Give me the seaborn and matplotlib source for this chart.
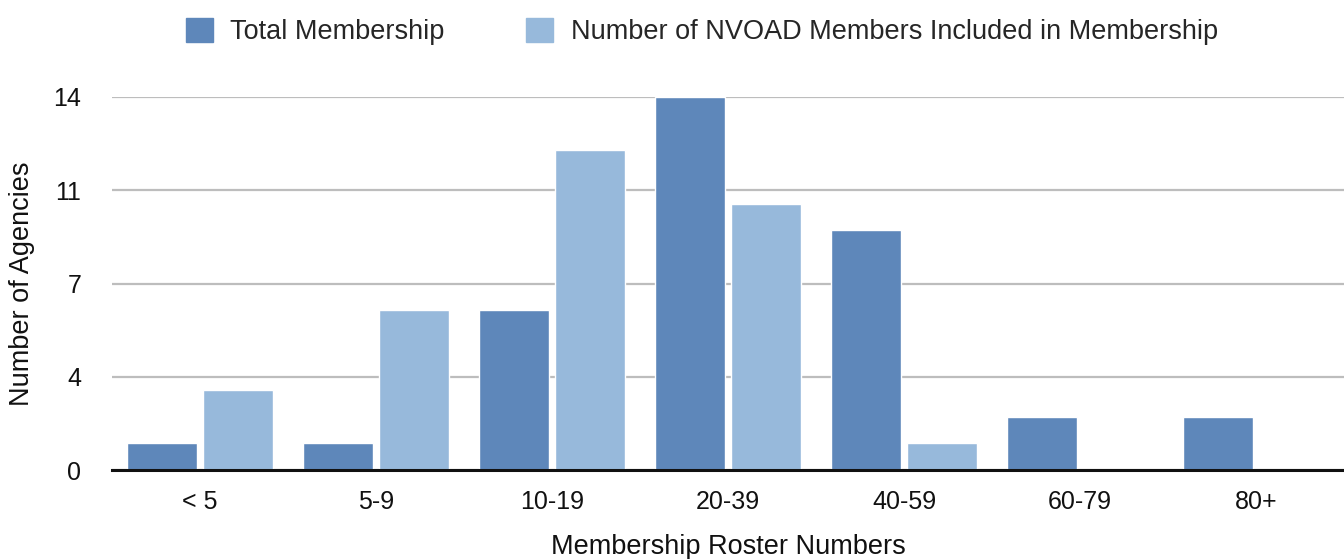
"""
plot.py

Grouped bar chart: membership roster sizes of agencies.
"""

import matplotlib
matplotlib.use("Agg")
import matplotlib.pyplot as plt
import pandas as pd
import seaborn as sns

# data
categories = ["< 5", "5-9", "10-19", "20-39", "40-59", "60-79", "80+"]
total_membership = [1, 1, 6, 14, 9, 2, 2]
nvoad_members = [3, 6, 12, 10, 1, 0, 0]
series_names = ["Total Membership", "Number of NVOAD Members Included in Membership"]
y_ticks = [0, 3.5, 7, 10.5, 14]
y_tick_labels = ["0", "4", "7", "11", "14"]

colors = ["#5E87BA", "#97B9DB"]

df = pd.DataFrame({
    "category": categories * 2,
    "value": total_membership + nvoad_members,
    "series": [series_names[0]] * len(categories) + [series_names[1]] * len(categories),
})

sns.set_style("white")
plt.rcParams["font.family"] = ["Liberation Sans", "DejaVu Sans"]

fig = plt.figure(figsize=(13.44, 5.59), dpi=100)
ax = fig.add_axes([0.0833, 0.159, 0.9167, 0.6675])

sns.barplot(data=df, x="category", y="value", hue="series", order=categories,
            hue_order=series_names, palette=colors, width=0.86, gap=0.08,
            saturation=1, ax=ax, legend=False)

ax.set_ylim(0, 14)
ax.set_xlim(-0.5, len(categories) - 0.5)
ax.set_yticks(y_ticks)
ax.set_yticklabels(y_tick_labels)
ax.yaxis.grid(True, color="#BDBDBD", linewidth=1.6)
ax.set_axisbelow(True)
ax.tick_params(axis="y", length=0, pad=22, labelsize=18, colors="#111111")
ax.tick_params(axis="x", length=0, pad=14, labelsize=18, colors="#111111")

for side in ["top", "right", "left"]:
    ax.spines[side].set_visible(False)
ax.spines["bottom"].set_color("#111111")
ax.spines["bottom"].set_linewidth(2.2)

ax.set_xlabel("Membership Roster Numbers", fontsize=19.5, color="#111111", va="center")
ax.set_ylabel("Number of Agencies", fontsize=19.5, color="#111111", va="center")
ax.xaxis.set_label_coords(0.5, -0.206)
ax.yaxis.set_label_coords(-0.073, 0.5)

handles = [plt.Rectangle((0, 0), 1, 1, color=c) for c in colors]
fig.legend(handles, series_names, loc="upper center", bbox_to_anchor=(0.522, 1.012),
           ncol=2, frameon=False, fontsize=19.5, handlelength=1.0, handleheight=1.0,
           handletextpad=0.65, columnspacing=3.0)

fig.savefig("out.png", dpi=100)
